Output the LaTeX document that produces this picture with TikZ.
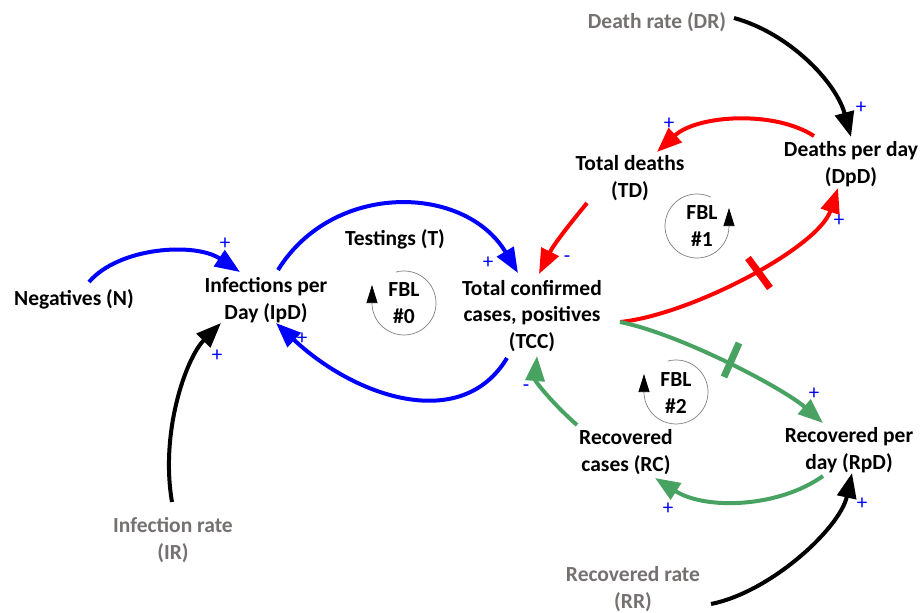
\documentclass[tikz,border=0pt]{standalone}
\usepackage{fontspec}
\setmainfont{Carlito}
\usetikzlibrary{arrows.meta}
\definecolor{rategray}{RGB}{118,113,113}
\definecolor{rgreen}{RGB}{72,162,98}
\definecolor{loopgray}{RGB}{130,130,130}
\tikzset{
  lbl/.style={font=\bfseries\fontsize{21.5}{26.5}\selectfont, align=center, inner sep=0pt},
  ratelbl/.style={lbl, text=rategray},
  sgn/.style={font=\fontsize{21}{21}\selectfont, text=blue, inner sep=0pt},
  conn/.style={line width=4pt, -{Triangle[length=25pt,width=19pt]}},
  loopln/.style={draw=loopgray, line width=0.7pt, -{Triangle[length=18pt,width=11pt,color=black]}},
  delaybar/.style={line width=7pt}
}
\begin{document}
\begin{tikzpicture}[x=1pt,y=1pt]
\useasboundingbox[fill=white] (0,0) rectangle (922,-613);
% nodes
\node[lbl] (N) at (74,-299) {Negatives (N)};
\node[lbl] (IpD) at (266,-300) {Infections per\\Day (IpD)};
\node[lbl] (T) at (395,-239) {Testings (T)};
\node[lbl] (TCC) at (532,-316) {Total confirmed\\cases, positives\\(TCC)};
\node[lbl] (TD) at (630,-178) {Total deaths\\(TD)};
\node[lbl] (DpD) at (851,-164) {Deaths per day\\(DpD)};
\node[ratelbl] (DR) at (657,-22) {Death rate (DR)};
\node[lbl] (RC) at (626,-452) {Recovered\\cases (RC)};
\node[lbl] (RpD) at (849,-450) {Recovered per\\day (RpD)};
\node[ratelbl] (RR) at (633,-589) {Recovered rate\\(RR)};
\node[ratelbl] (IR) at (173,-540) {Infection rate\\(IR)};
% FBL loops
\node[lbl] (F0) at (404,-303) {FBL\\\#0};
\node[lbl] (F1) at (702,-226) {FBL\\\#1};
\node[lbl] (F2) at (676,-393) {FBL\\\#2};
\draw[loopln] (404,-303) ++(105:32) arc[start angle=105, end angle=-180, radius=32] -- ++(0,18);
\draw[loopln] (697,-226) ++(65:32) arc[start angle=65, end angle=360, radius=32] -- ++(0,18);
\draw[loopln] (676,-392) ++(105:32) arc[start angle=105, end angle=-180, radius=32] -- ++(0,18);
% connectors
\draw[conn, blue] ([shift={(15,17)}]N.center) .. controls +(30,35) and +(-45,30) .. ([shift={(-26,28)}]IpD.center);
\draw[conn, blue] ([shift={(12,30)}]IpD.center) .. controls +(55,89) and +(-53,89) .. ([shift={(-14,43)}]TCC.center);
\draw[conn, blue] ([shift={(-25,-42)}]TCC.center) .. controls +(-45,-75) and +(80,-75) .. ([shift={(10,-23)}]IpD.center);
\draw[conn, black] ([shift={(-1,38)}]IR.center) .. controls +(-12,70) and +(-35,-35) .. ([shift={(-45,-23)}]IpD.center);
\draw[conn, black] ([shift={(77,4)}]DR.center) .. controls +(55,-15) and +(-15,55) .. ([shift={(0,27)}]DpD.center);
\draw[conn, red] ([shift={(-37,28)}]DpD.center) .. controls +(-40,26) and +(40,37) .. ([shift={(27,26)}]TD.center);
\draw[conn, red] ([shift={(-43,-25)}]TD.center) .. controls +(-18,-22) and +(15,30) .. ([shift={(7,42)}]TCC.center);
\draw[conn, red] ([shift={(88,-6)}]TCC.center) .. controls +(70,7) and +(-20,-60) .. ([shift={(-13,-24)}]DpD.center);
\draw[conn, rgreen] ([shift={(88,-6)}]TCC.center) .. controls +(60,-12) and +(-40,35) .. ([shift={(-26,27)}]RpD.center);
\draw[conn, rgreen] ([shift={(-26,-26)}]RpD.center) .. controls +(-45,-32) and +(50,-32) .. ([shift={(29,-26)}]RC.center);
\draw[conn, rgreen] ([shift={(-49,27)}]RC.center) .. controls +(-25,22) and +(-2,-25) .. ([shift={(5,-40)}]TCC.center);
\draw[conn, black] ([shift={(78,-15)}]RR.center) .. controls +(60,12) and +(-12,-55) .. ([shift={(3,-23)}]RpD.center);
% delay marks
\draw[delaybar, red] (748,-258) -- (770,-288);
\draw[delaybar, rgreen] (739,-343) -- (724,-377);
% polarity signs
\node[sgn] (s1) at (225,-244) {+};
\node[sgn] (s2) at (488,-263) {+};
\node[sgn] (s3) at (302,-339) {+};
\node[sgn] (s4) at (217,-356) {+};
\node[sgn] (s5) at (861,-108) {+};
\node[sgn] (s6) at (669,-124) {+};
\node[sgn] (s7) at (567,-259) {-};
\node[sgn] (s8) at (839,-221) {+};
\node[sgn] (s9) at (814,-394) {+};
\node[sgn] (s10) at (668,-509) {+};
\node[sgn] (s11) at (526,-388) {-};
\node[sgn] (s12) at (862,-504) {+};
\end{tikzpicture}
\end{document}
